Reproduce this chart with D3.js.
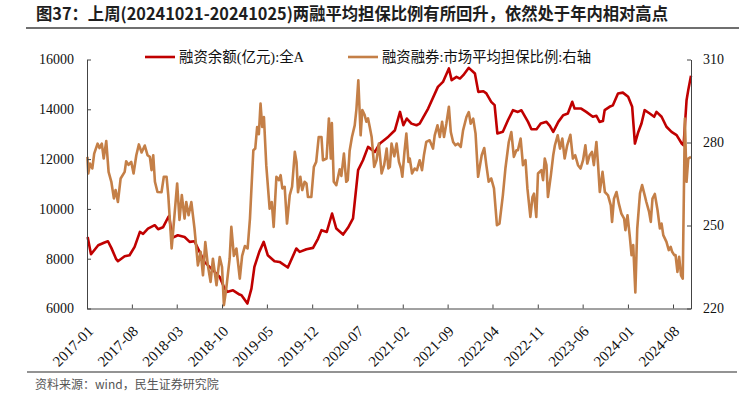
<!DOCTYPE html>
<html>
<head>
<meta charset="utf-8">
<script src="https://cdn.jsdelivr.net/npm/d3@7"></script>
<style>
  body { margin: 0; background: #fff; }
  svg { display: block; }
</style>
</head>
<body>
<div id="vis"></div>
<script>
// 融资余额(亿元):全A  -- left axis
var marginDates = ["2017-01-04","2017-01-20","2017-02-23","2017-03-25","2017-04-10","2017-04-26","2017-05-19","2017-05-27","2017-06-28","2017-07-21","2017-08-14","2017-09-08","2017-09-23","2017-10-16","2017-11-17","2017-12-03","2017-12-26","2018-01-19","2018-01-24","2018-02-08","2018-03-06","2018-04-07","2018-05-01","2018-05-24","2018-06-17","2018-07-10","2018-08-19","2018-09-20","2018-10-13","2018-10-28","2018-11-22","2018-12-23","2019-01-01","2019-01-29","2019-02-17","2019-03-03","2019-03-26","2019-04-16","2019-05-05","2019-06-06","2019-06-30","2019-08-08","2019-09-17","2019-10-03","2019-11-04","2019-12-05","2019-12-29","2020-01-14","2020-02-08","2020-03-04","2020-03-24","2020-04-25","2020-05-18","2020-06-11","2020-07-05","2020-07-28","2020-08-21","2020-09-22","2020-10-16","2020-11-25","2020-12-26","2021-01-19","2021-02-04","2021-02-20","2021-03-14","2021-04-07","2021-04-22","2021-06-01","2021-07-17","2021-08-10","2021-09-07","2021-09-20","2021-10-13","2021-10-29","2021-11-14","2021-12-10","2022-01-08","2022-01-24","2022-02-17","2022-03-03","2022-03-26","2022-04-11","2022-04-24","2022-05-20","2022-06-13","2022-07-07","2022-07-30","2022-08-16","2022-09-16","2022-10-02","2022-10-26","2022-11-15","2022-12-12","2022-12-28","2023-01-13","2023-02-06","2023-03-01","2023-03-23","2023-04-13","2023-04-24","2023-05-25","2023-06-18","2023-07-19","2023-08-05","2023-08-20","2023-09-05","2023-09-13","2023-10-06","2023-10-22","2023-11-15","2023-12-08","2024-01-02","2024-01-21","2024-02-03","2024-02-19","2024-03-05","2024-03-20","2024-04-13","2024-05-04","2024-05-15","2024-06-08","2024-07-01","2024-07-25","2024-08-18","2024-09-11","2024-09-20","2024-10-04","2024-10-12","2024-10-25"];
var marginValues = [8875,8180,8540,8650,8700,8435,7980,7900,8100,8140,8475,9075,9000,9210,9345,9185,9260,9655,9720,8835,8940,8870,8675,8700,8275,7870,7540,7270,6800,6670,6730,6560,6535,6200,6800,7670,8275,8675,8140,7900,7870,7645,8410,8275,8380,8435,8810,9145,9075,9815,9210,8970,9240,9615,11555,11955,12490,12290,12625,12900,13160,13895,13360,13630,13425,13360,13425,14030,14900,15100,15640,15170,15300,15235,15370,15665,15440,14700,14725,14640,14300,14165,13030,13100,13560,13965,13895,13960,13495,13200,13200,13430,13495,13335,13090,13495,13765,13830,14300,14030,14030,13895,13700,13740,13495,13530,13965,14100,14160,14635,14670,14500,14100,12625,13090,13430,13965,13830,13700,13895,13700,13300,13090,12960,12625,12550,14365,14770,15350];

// 融资融券:市场平均担保比例 -- right axis
var ratioDates = ["2017-01-03","2017-01-07","2017-01-15","2017-01-26","2017-02-04","2017-02-20","2017-03-01","2017-03-12","2017-03-21","2017-04-02","2017-04-13","2017-04-26","2017-05-08","2017-05-16","2017-05-27","2017-06-09","2017-06-28","2017-07-05","2017-07-16","2017-07-29","2017-08-09","2017-08-22","2017-09-03","2017-09-16","2017-10-01","2017-10-14","2017-10-25","2017-11-02","2017-11-10","2017-11-18","2017-11-30","2017-12-19","2017-12-30","2018-01-12","2018-01-20","2018-02-05","2018-02-17","2018-03-03","2018-03-14","2018-03-25","2018-04-07","2018-04-15","2018-04-26","2018-05-09","2018-05-24","2018-06-09","2018-06-22","2018-07-03","2018-07-14","2018-07-26","2018-08-08","2018-08-19","2018-09-05","2018-09-20","2018-10-01","2018-10-10","2018-10-21","2018-11-06","2018-11-14","2018-11-26","2018-12-08","2018-12-24","2019-01-04","2019-01-17","2019-01-30","2019-02-10","2019-02-26","2019-03-07","2019-03-16","2019-03-24","2019-04-01","2019-04-09","2019-04-17","2019-04-28","2019-05-14","2019-05-24","2019-06-02","2019-06-15","2019-06-27","2019-07-05","2019-07-13","2019-07-24","2019-08-04","2019-08-17","2019-08-28","2019-09-10","2019-09-18","2019-09-25","2019-10-06","2019-10-15","2019-10-26","2019-11-04","2019-11-11","2019-11-27","2019-12-09","2019-12-20","2020-01-01","2020-01-14","2020-01-21","2020-02-07","2020-02-18","2020-02-27","2020-03-03","2020-03-12","2020-03-24","2020-04-09","2020-04-17","2020-04-29","2020-05-10","2020-05-17","2020-05-26","2020-06-06","2020-06-19","2020-06-27","2020-07-06","2020-07-17","2020-07-25","2020-08-05","2020-08-13","2020-08-21","2020-08-29","2020-09-07","2020-09-19","2020-09-30","2020-10-11","2020-10-24","2020-11-05","2020-11-17","2020-11-25","2020-12-02","2020-12-10","2020-12-23","2021-01-03","2021-01-14","2021-01-24","2021-01-30","2021-02-09","2021-02-18","2021-02-28","2021-03-06","2021-03-17","2021-03-29","2021-04-09","2021-04-22","2021-05-03","2021-05-12","2021-05-23","2021-06-08","2021-06-24","2021-07-02","2021-07-15","2021-07-26","2021-08-06","2021-08-15","2021-08-26","2021-09-07","2021-09-16","2021-09-27","2021-10-08","2021-10-20","2021-11-02","2021-11-13","2021-11-29","2021-12-10","2021-12-19","2021-12-31","2022-01-11","2022-01-23","2022-02-09","2022-02-21","2022-03-03","2022-03-14","2022-03-26","2022-04-08","2022-04-22","2022-05-04","2022-05-20","2022-06-01","2022-06-17","2022-06-29","2022-07-11","2022-07-23","2022-07-30","2022-08-12","2022-08-23","2022-09-04","2022-09-13","2022-09-27","2022-10-07","2022-10-14","2022-10-25","2022-11-02","2022-11-18","2022-11-26","2022-12-04","2022-12-12","2022-12-19","2023-01-02","2023-01-13","2023-01-21","2023-02-03","2023-02-14","2023-02-25","2023-03-08","2023-03-20","2023-04-04","2023-04-16","2023-04-27","2023-05-10","2023-05-22","2023-06-03","2023-06-14","2023-06-23","2023-07-04","2023-07-15","2023-07-24","2023-08-05","2023-08-13","2023-08-21","2023-09-03","2023-09-14","2023-09-29","2023-10-12","2023-10-18","2023-10-27","2023-11-08","2023-11-19","2023-12-01","2023-12-14","2023-12-20","2023-12-30","2024-01-10","2024-01-18","2024-01-26","2024-02-05","2024-02-14","2024-02-27","2024-03-08","2024-03-20","2024-03-28","2024-04-10","2024-04-18","2024-04-26","2024-05-07","2024-05-20","2024-05-31","2024-06-08","2024-06-16","2024-07-01","2024-07-12","2024-07-21","2024-07-28","2024-08-07","2024-08-13","2024-08-22","2024-08-30","2024-09-08","2024-09-16","2024-09-26","2024-10-04","2024-10-12","2024-10-25"];
var ratioValues = [274.8,268.8,272.4,270.6,276.0,279.6,278.0,279.6,274.2,280.5,269.4,265.8,259.8,262.8,258.5,267.0,269.4,273.2,271.9,273.0,268.8,275.4,279.3,276.4,278.9,275.4,274.8,270.0,275.4,265.8,262.1,262.0,267.6,267.6,261.0,241.7,252.5,265.2,252.0,261.0,252.5,258.5,253.7,258.5,248.9,235.6,240.5,232.0,244.0,235.6,229.6,238.0,228.4,238.6,235.0,221.2,227.2,238.0,249.5,239.0,241.7,230.8,239.0,242.6,241.7,252.5,277.2,277.8,285.6,283.0,294.1,285.6,289.2,271.8,256.1,258.5,249.5,267.6,266.4,268.2,263.4,264.0,250.7,261.0,264.0,276.6,273.0,262.0,267.6,262.8,265.8,265.2,260.3,260.3,271.2,273.0,282.0,282.0,273.6,274.2,288.7,274.2,287.0,265.8,264.6,270.3,267.9,276.0,265.8,266.4,277.0,282.0,286.2,292.0,302.5,282.6,291.7,289.9,287.5,288.7,285.6,282.0,271.2,273.6,279.6,268.8,271.8,277.8,270.6,271.2,279.6,275.0,279.6,273.0,270.6,267.6,276.6,283.2,273.0,274.2,268.8,270.6,270.0,273.6,270.0,275.4,280.2,280.8,277.8,282.6,286.2,282.0,287.5,282.0,286.8,292.9,283.8,280.2,279.0,279.6,278.4,284.4,289.2,291.0,286.8,288.6,283.2,267.6,275.4,278.0,271.8,265.8,267.0,263.4,250.1,250.7,260.9,270.6,280.2,283.8,274.8,277.2,277.2,281.4,271.8,273.6,263.4,253.1,260.3,261.5,253.1,268.8,270.0,266.4,274.2,271.8,260.3,268.2,275.4,279.0,282.6,277.8,281.4,274.2,279.0,282.8,274.2,275.4,271.8,270.6,273.6,279.0,272.4,275.4,276.6,271.8,280.2,271.8,262.1,269.4,262.1,260.9,257.3,251.3,259.7,262.1,257.9,254.3,252.5,248.3,253.7,245.9,239.3,242.9,225.8,248.9,261.6,264.6,261.0,258.5,254.9,251.3,259.7,261.4,255.5,248.9,250.7,246.5,244.1,241.1,242.3,240.5,239.3,239.3,233.2,238.7,232.0,230.8,288.7,265.8,274.2,274.8];

var xTickLabels = ["2017-01","2017-08","2018-03","2018-10","2019-05","2019-12","2020-07","2021-02","2021-09","2022-04","2022-11","2023-06","2024-01","2024-08"];
var leftTicks = [6000, 8000, 10000, 12000, 14000, 16000];
var rightTicks = [220, 250, 280, 310];
var seriesNames = ["融资余额(亿元):全A", "融资融券:市场平均担保比例:右轴"];

var W = 753, H = 397;
var plot = {left: 87, right: 691, top: 59.5, bottom: 308.5};
var red = "#C00000", tan = "#C47F47";
var serif = "'Liberation Serif','Times New Roman','Noto Sans CJK SC',serif";
var sans = "'Noto Sans CJK SC','Noto Sans',sans-serif";

var parse = d3.timeParse("%Y-%m-%d");
var parseMonth = d3.timeParse("%Y-%m");

var svg = d3.select("#vis").append("svg")
  .attr("width", W)
  .attr("height", H)
  .style("background", "#fff");

// title + rules
svg.append("text")
  .attr("x", 36).attr("y", 20)
  .attr("textLength", 632).attr("lengthAdjust", "spacingAndGlyphs")
  .style("font-family", sans).style("font-weight", "bold").style("font-size", "17px")
  .attr("fill", "#1e1e1e")
  .text("图37：上周(20241021-20241025)两融平均担保比例有所回升，依然处于年内相对高点");
svg.append("line").attr("x1", 26).attr("x2", 739).attr("y1", 28).attr("y2", 28)
  .attr("stroke", "#6f6f6f").attr("stroke-width", 2);
svg.append("line").attr("x1", 27).attr("x2", 737).attr("y1", 372).attr("y2", 372)
  .attr("stroke", "#6f6f6f").attr("stroke-width", 1.5);
svg.append("text")
  .attr("x", 35).attr("y", 389)
  .style("font-family", sans).style("font-size", "12px")
  .attr("fill", "#555")
  .text("资料来源：wind，民生证券研究院");

var x = d3.scaleTime()
  .domain([parse("2017-01-01"), parse("2024-10-25")])
  .range([plot.left, plot.right]);
var yL = d3.scaleLinear().domain([6000, 16000]).range([plot.bottom, plot.top]);
var yR = d3.scaleLinear().domain([220, 310]).range([plot.bottom, plot.top]);

var marginData = marginDates.map(function(d, i) { return {date: parse(d), value: marginValues[i]}; });
var ratioData = ratioDates.map(function(d, i) { return {date: parse(d), value: ratioValues[i]}; });

var lineL = d3.line().x(function(d) { return x(d.date); }).y(function(d) { return yL(d.value); });
var lineR = d3.line().x(function(d) { return x(d.date); }).y(function(d) { return yR(d.value); });

svg.append("path").datum(marginData)
  .attr("d", lineL).attr("fill", "none")
  .attr("stroke", red).attr("stroke-width", 2.6).attr("stroke-linejoin", "round");
svg.append("path").datum(ratioData)
  .attr("d", lineR).attr("fill", "none")
  .attr("stroke", tan).attr("stroke-width", 2.6).attr("stroke-linejoin", "round");

// axes
function styleAxis(g) {
  g.select(".domain").attr("stroke", "#444");
  g.selectAll(".tick line").attr("stroke", "#444");
  g.selectAll("text").style("font-family", serif).style("font-size", "14px").attr("fill", "#111");
}

svg.append("g")
  .attr("transform", "translate(" + plot.left + ",0)")
  .call(d3.axisLeft(yL).tickValues(leftTicks).tickSize(-4).tickSizeOuter(0).tickPadding(13).tickFormat(d3.format("d")))
  .call(styleAxis);

svg.append("g")
  .attr("transform", "translate(" + plot.right + ",0)")
  .call(d3.axisRight(yR).tickValues(rightTicks).tickSize(-4).tickSizeOuter(0).tickPadding(12))
  .call(styleAxis);

var xTicks = xTickLabels.map(function(s) { return parseMonth(s); });
var xAxis = svg.append("g")
  .attr("transform", "translate(0," + plot.bottom + ")")
  .call(d3.axisBottom(x).tickValues(xTicks).tickSize(-4).tickSizeOuter(0).tickFormat(d3.timeFormat("%Y-%m")))
  .call(styleAxis);
xAxis.selectAll(".tick text")
  .attr("text-anchor", "end")
  .attr("y", 0).attr("dy", "0.35em")
  .style("font-size", "15px")
  .attr("transform", "translate(3,20) rotate(-45)");

// legend
var legendItems = [
  {name: seriesNames[0], color: red, x1: 145, len: 125},
  {name: seriesNames[1], color: tan, x1: 348, len: 209}
];
var legend = svg.append("g");
legendItems.forEach(function(it) {
  legend.append("line")
    .attr("x1", it.x1).attr("x2", it.x1 + 30).attr("y1", 57).attr("y2", 57)
    .attr("stroke", it.color).attr("stroke-width", 2.6);
  legend.append("text")
    .attr("x", it.x1 + 34).attr("y", 62)
    .attr("textLength", it.len).attr("lengthAdjust", "spacingAndGlyphs")
    .style("font-family", serif).style("font-size", "15px").attr("fill", "#111")
    .text(it.name);
});
</script>
</body>
</html>
